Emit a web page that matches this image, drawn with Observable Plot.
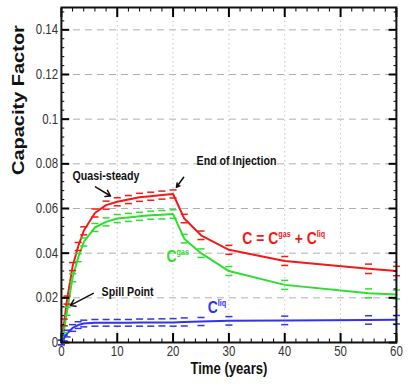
<!DOCTYPE html>
<html><head><meta charset="utf-8">
<script src="https://cdn.jsdelivr.net/npm/d3@7"></script>
<script src="https://cdn.jsdelivr.net/npm/@observablehq/plot@0.6"></script>
<style>
body{margin:0;background:#fff}
#chart svg line, #chart svg path, #chart svg rect{vector-effect:non-scaling-stroke}
</style>
</head><body><div id="chart"></div>
<script>
// ---- data ----
const time     = [0, 0.5, 1, 2, 3, 4, 6, 8, 10, 12, 14, 16, 18, 20, 22, 25, 30, 40, 55, 60];
const cTotal   = [0, 0.009, 0.019, 0.034, 0.043, 0.050, 0.058, 0.0615, 0.063, 0.064, 0.065, 0.0655, 0.066, 0.0665, 0.0555, 0.048, 0.0415, 0.0365, 0.033, 0.032];
const cGas     = [0, 0.006, 0.014, 0.029, 0.038, 0.045, 0.0515, 0.054, 0.0555, 0.056, 0.0565, 0.057, 0.0572, 0.0575, 0.0465, 0.040, 0.032, 0.0258, 0.022, 0.0215];
const cLiq     = [0, 0.002, 0.004, 0.0065, 0.0078, 0.0085, 0.0088, 0.0088, 0.0088, 0.0088, 0.0089, 0.0089, 0.009, 0.009, 0.0092, 0.0094, 0.0097, 0.0099, 0.0101, 0.0102];
const errTotal = [0.001, 0.0015, 0.0018, 0.0018, 0.0018, 0.0018, 0.0018, 0.0018, 0.0018, 0.0018, 0.0018, 0.0018, 0.0018, 0.0018, 0.0019, 0.0019, 0.002, 0.002, 0.0021, 0.0021];
const errGas   = [0.001, 0.0015, 0.0018, 0.0018, 0.0018, 0.0018, 0.0018, 0.0018, 0.0018, 0.0018, 0.0018, 0.0018, 0.0019, 0.0019, 0.0019, 0.0019, 0.002, 0.002, 0.002, 0.002];
const errLiq   = [0.001, 0.0013, 0.0015, 0.0015, 0.0015, 0.0015, 0.0015, 0.0015, 0.0015, 0.0015, 0.0016, 0.0016, 0.0016, 0.0017, 0.0018, 0.0018, 0.0019, 0.0019, 0.0019, 0.0019];
const seriesNames  = ["total", "gas", "liq"];
const seriesColors = ["#f41818", "#2ede2e", "#3232f2"];

const xTicks = [0, 10, 20, 30, 40, 50, 60];
const xMinor = [2, 4, 6, 8, 12, 14, 16, 18, 22, 24, 26, 28, 32, 34, 36, 38, 42, 44, 46, 48, 52, 54, 56, 58];
const yTicks = [0, 0.02, 0.04, 0.06, 0.08, 0.1, 0.12, 0.14];
const yMinor = [0.004, 0.008, 0.012, 0.016, 0.024, 0.028, 0.032, 0.036, 0.044, 0.048, 0.052, 0.056, 0.064, 0.068, 0.072, 0.076, 0.084, 0.088, 0.092, 0.096, 0.104, 0.108, 0.112, 0.116, 0.124, 0.128, 0.132, 0.136, 0.144, 0.148];
const xLabel = "Time (years)";
const yLabel = "Capacity Factor";

const labels = [
  {t: 2.0,  v: 0.0745, text: "Quasi-steady",          color: "#111", size: 13},
  {t: 24.2, v: 0.0812, text: "End of Injection",      color: "#111", size: 13},
  {t: 7.2,  v: 0.0229, text: "Spill Point",           color: "#111", size: 13},
  {t: 32.4, v: 0.0467, text: "C = C^{gas} + C^{liq}", color: "#f41818", size: 17},
  {t: 18.8, v: 0.0386, text: "C^{gas}",               color: "#2ede2e", size: 17},
  {t: 26.2, v: 0.0157, text: "C^{liq}",               color: "#3232f2", size: 17}
];
const arrows = [
  {t1: 6.1,  v1: 0.0697, t2: 8.8,  v2: 0.0656},
  {t1: 21.9, v1: 0.0740, t2: 20.6, v2: 0.0695},
  {t1: 5.7,  v1: 0.0220, t2: 1.6,  v2: 0.0166}
];

// ---- build table ----
const vals = [cTotal, cGas, cLiq], errs = [errTotal, errGas, errLiq];
const rows = [];
seriesNames.forEach((s, i) => time.forEach((t, j) => rows.push({s, t, v: vals[i][j], lo: vals[i][j] - errs[i][j], hi: vals[i][j] + errs[i][j]})));

const squeeze = 0.82;            // the reference is horizontally condensed
const W = 417 / squeeze, H = 387;
const font = "'Liberation Sans', Arial, sans-serif";
const capSymbol = {draw(ctx, size) { const w = Math.sqrt(size / Math.PI); ctx.moveTo(-w, 0); ctx.lineTo(w, 0); }};
const colorOf = s => seriesColors[seriesNames.indexOf(s)];

const plot = Plot.plot({
  width: W, height: H,
  marginLeft: 61 / squeeze, marginRight: 21 / squeeze, marginTop: 7, marginBottom: 45,
  style: {fontFamily: font, background: "#fff"},
  x: {domain: [0, 60]},
  y: {domain: [0, 0.15]},
  marks: [
    Plot.gridY(yTicks.filter(d => d > 0), {stroke: "#b0b0b0", strokeOpacity: 1, strokeDasharray: "7,5"}),
    Plot.gridX(xTicks.filter(d => d > 0 && d < 60), {stroke: "#c8c8c8", strokeOpacity: 1, strokeDasharray: "1.5,3"}),
    Plot.line(rows, {x: "t", y: "v", z: "s", stroke: d => colorOf(d.s), strokeWidth: 2}),
    Plot.dot(rows, {x: "t", y: "hi", symbol: capSymbol, r: 4.3, fill: "none", stroke: d => colorOf(d.s), strokeWidth: 1.5}),
    Plot.dot(rows, {x: "t", y: "lo", symbol: capSymbol, r: 4.3, fill: "none", stroke: d => colorOf(d.s), strokeWidth: 1.5}),
    // inward ticks on all four sides
    Plot.axisY(yTicks, {anchor: "left", tickSize: -10, strokeWidth: 2, tickFormat: () => "", label: null}),
    Plot.axisY(yMinor, {anchor: "left", tickSize: -4, strokeWidth: 1, tickFormat: () => "", label: null}),
    Plot.axisY(yTicks, {anchor: "right", tickSize: -10, strokeWidth: 2, tickFormat: () => "", label: null}),
    Plot.axisY(yMinor, {anchor: "right", tickSize: -4, strokeWidth: 1, tickFormat: () => "", label: null}),
    Plot.axisX(xTicks, {anchor: "bottom", tickSize: -9, strokeWidth: 2, tickFormat: () => "", label: null}),
    Plot.axisX(xMinor, {anchor: "bottom", tickSize: -3.5, strokeWidth: 1, tickFormat: () => "", label: null}),
    Plot.axisX(xTicks, {anchor: "top", tickSize: -9, strokeWidth: 2, tickFormat: () => "", label: null}),
    Plot.axisX(xMinor, {anchor: "top", tickSize: -3.5, strokeWidth: 1, tickFormat: () => "", label: null}),
    // tick labels
    Plot.axisY(yTicks, {anchor: "left", tickSize: 0, tickPadding: 4, tickFormat: d3.format("~g"), fontSize: 14, fill: "#333", label: null}),
    Plot.axisX(xTicks, {anchor: "bottom", tickSize: 0, tickPadding: 4, tickFormat: d3.format("~g"), fontSize: 14, fill: "#333", label: null}),
    Plot.frame({stroke: "#111", strokeWidth: 2}),
    Plot.text([yLabel], {frameAnchor: "left", dx: -52, rotate: -90, fontSize: 20, fontWeight: "bold", fill: "#111"}),
    Plot.text([xLabel], {frameAnchor: "bottom", dy: 31, fontSize: 16, fontWeight: "bold", fill: "#111"}),
    Plot.arrow(arrows, {x1: "t1", y1: "v1", x2: "t2", y2: "v2", stroke: "#111", strokeWidth: 1.5, headLength: 7}),
    Plot.text(labels, {x: "t", y: "v", text: "text", fill: "color", fontSize: "size", fontWeight: "bold", textAnchor: "start"})
  ]
});

// superscripts: turn ^{...} into raised tspans
d3.select(plot).selectAll("text").each(function () {
  const txt = this.textContent;
  if (!txt.includes("^{")) return;
  const fs = parseFloat(this.getAttribute("font-size")) || 17;
  const el = d3.select(this);
  el.text(null);
  const parts = txt.split(/(\^\{[^}]*\})/);
  let raised = false;
  parts.forEach(p => {
    if (!p) return;
    if (p.startsWith("^{")) {
      el.append("tspan").attr("dy", -fs * 0.42).attr("font-size", fs * 0.52).text(p.slice(2, -1));
      raised = true;
    } else {
      const ts = el.append("tspan").text(p);
      if (raised) { ts.attr("dy", fs * 0.42); raised = false; }
    }
  });
});

plot.setAttribute("width", 417);
plot.setAttribute("height", 387);
plot.setAttribute("viewBox", `0 0 ${W} ${H}`);
plot.setAttribute("preserveAspectRatio", "none");
plot.style.width = "417px";
plot.style.height = "387px";
plot.style.maxWidth = "none";
document.getElementById("chart").appendChild(plot);
</script>
</body></html>
